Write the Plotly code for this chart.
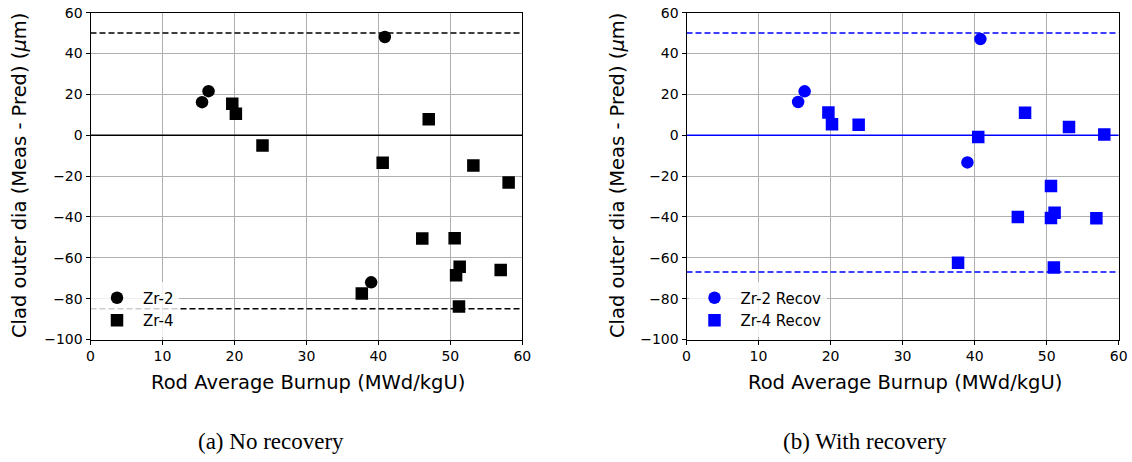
import plotly.graph_objects as go

# ---- data (a) No recovery ----
zr2_x = [15.5, 16.4, 40.9, 39.0]
zr2_y = [16.2, 21.6, 48.1, -72.0]
zr4_x = [19.7, 20.2, 23.9, 47.0, 40.6, 53.2, 58.1, 46.1, 50.6, 51.3, 50.8, 57.0, 37.7, 51.2]
zr4_y = [15.4, 10.5, -5.0, 7.8, -13.5, -14.8, -23.1, -50.6, -50.4, -64.4, -68.6, -66.0, -77.5, -83.9]

# ---- data (b) With recovery ----
zr2r_x = [15.5, 16.4, 40.8, 39.0]
zr2r_y = [16.3, 21.5, 47.1, -13.3]
zr4r_x = [19.7, 20.2, 23.9, 47.0, 40.5, 53.1, 58.0, 50.6, 46.0, 50.6, 51.1, 56.9, 37.7, 51.0]
zr4r_y = [11.1, 5.4, 5.1, 11.0, -0.9, 4.1, 0.4, -24.9, -40.0, -40.5, -38.0, -40.6, -62.4, -64.7]

# reference lines: zero line and bounds
zero_level = 0
bounds_a = [50, -85]
bounds_b = [50, -67]

x_range = [0, 60]
y_range = [-100, 60]
x_ticks = [0, 10, 20, 30, 40, 50, 60]
y_ticks = [-100, -80, -60, -40, -20, 0, 20, 40, 60]

x_title = "Rod Average Burnup (MWd/kgU)"
y_title = "Clad outer dia (Meas - Pred) (<i>μ</i>m)"
captions = ["(a) No recovery", "(b) With recovery"]

BLACK = "#000000"
BLUE = "#0000ff"
FONT = "DejaVu Sans"

fig = go.Figure()

def add_panel(xa, ya, color, bounds, c_x, c_y, s_x, s_y, names, legend):
    fig.add_trace(go.Scatter(x=x_range, y=[zero_level, zero_level], mode="lines",
                             line=dict(color=color, width=1.5), xaxis=xa, yaxis=ya,
                             showlegend=False, hoverinfo="skip"))
    for b in bounds:
        fig.add_trace(go.Scatter(x=x_range, y=[b, b], mode="lines",
                                 line=dict(color=color, width=1.5, dash="6px,3px"),
                                 xaxis=xa, yaxis=ya, showlegend=False, hoverinfo="skip"))
    fig.add_trace(go.Scatter(x=c_x, y=c_y, mode="markers", name=names[0],
                             marker=dict(symbol="circle", size=12.5, color=color,
                                         line=dict(width=0)),
                             xaxis=xa, yaxis=ya, legend=legend))
    fig.add_trace(go.Scatter(x=s_x, y=s_y, mode="markers", name=names[1],
                             marker=dict(symbol="square", size=12.5, color=color,
                                         line=dict(width=0)),
                             xaxis=xa, yaxis=ya, legend=legend))

add_panel("x", "y", BLACK, bounds_a, zr2_x, zr2_y, zr4_x, zr4_y, ["Zr-2", "Zr-4"], "legend")
add_panel("x2", "y2", BLUE, bounds_b, zr2r_x, zr2r_y, zr4r_x, zr4r_y,
          ["Zr-2 Recov", "Zr-4 Recov"], "legend2")

axis_common = dict(
    showgrid=True, gridcolor="#b0b0b0", gridwidth=1,
    zeroline=False, showline=True, linecolor=BLACK, linewidth=1, mirror=True,
    ticks="outside", ticklen=4, tickwidth=1, tickcolor=BLACK,
    tickfont=dict(family=FONT, size=14, color=BLACK), automargin=False,
)

W, H = 1132, 462
Y0, Y1 = 1 - 339.5 / H, 1 - 12.7 / H
leg_common = dict(xanchor="left", yanchor="bottom", bgcolor="rgba(255,255,255,0.8)",
                  borderwidth=0, font=dict(family=FONT, size=15, color=BLACK),
                  itemsizing="trace", itemwidth=42, tracegroupgap=2)
fig.update_layout(
    template="none",
    width=W, height=H,
    margin=dict(l=0, r=0, t=0, b=0, pad=0, autoexpand=False),
    paper_bgcolor="white", plot_bgcolor="white",
    font=dict(family=FONT, color=BLACK),
    xaxis=dict(domain=[90.5 / W, 522.3 / W], range=x_range, tickvals=x_ticks, anchor="y", **axis_common),
    yaxis=dict(domain=[Y0, Y1], range=y_range, tickvals=y_ticks, anchor="x", **axis_common),
    xaxis2=dict(domain=[686.5 / W, 1118.7 / W], range=x_range, tickvals=x_ticks, anchor="y2", **axis_common),
    yaxis2=dict(domain=[Y0, Y1], range=y_range, tickvals=y_ticks, anchor="x2", **axis_common),
    legend=dict(x=91 / W, y=1 - 336.5 / H, **leg_common),
    legend2=dict(x=688.5 / W, y=1 - 336.5 / H, **leg_common),
    showlegend=True,
)

annots = []
for cx in [(90.5 + 522.3) / 2 / W + 2 / W, (686.5 + 1118.7) / 2 / W + 2 / W]:
    annots.append(dict(text=x_title, x=cx, y=1 - 382 / H, xref="paper", yref="paper",
                       showarrow=False, xanchor="center", yanchor="middle",
                       font=dict(family=FONT, size=19.5, color=BLACK)))
for tx in [19 / W, 617 / W]:
    annots.append(dict(text=y_title, x=tx, y=1 - 176 / H, xref="paper", yref="paper",
                       showarrow=False, xanchor="center", yanchor="middle", textangle=-90,
                       font=dict(family=FONT, size=19.5, color=BLACK)))
for cap, cx in zip(captions, [271 / W, 865 / W]):
    annots.append(dict(text=cap, x=cx, y=1 - 441 / H, xref="paper", yref="paper",
                       showarrow=False, xanchor="center", yanchor="middle",
                       font=dict(family="Liberation Serif", size=23, color=BLACK)))
fig.update_layout(annotations=annots)

fig.write_html("out.html", config={"displayModeBar": False},
               post_script="document.body.style.margin='0px';document.body.style.overflow='hidden';")
